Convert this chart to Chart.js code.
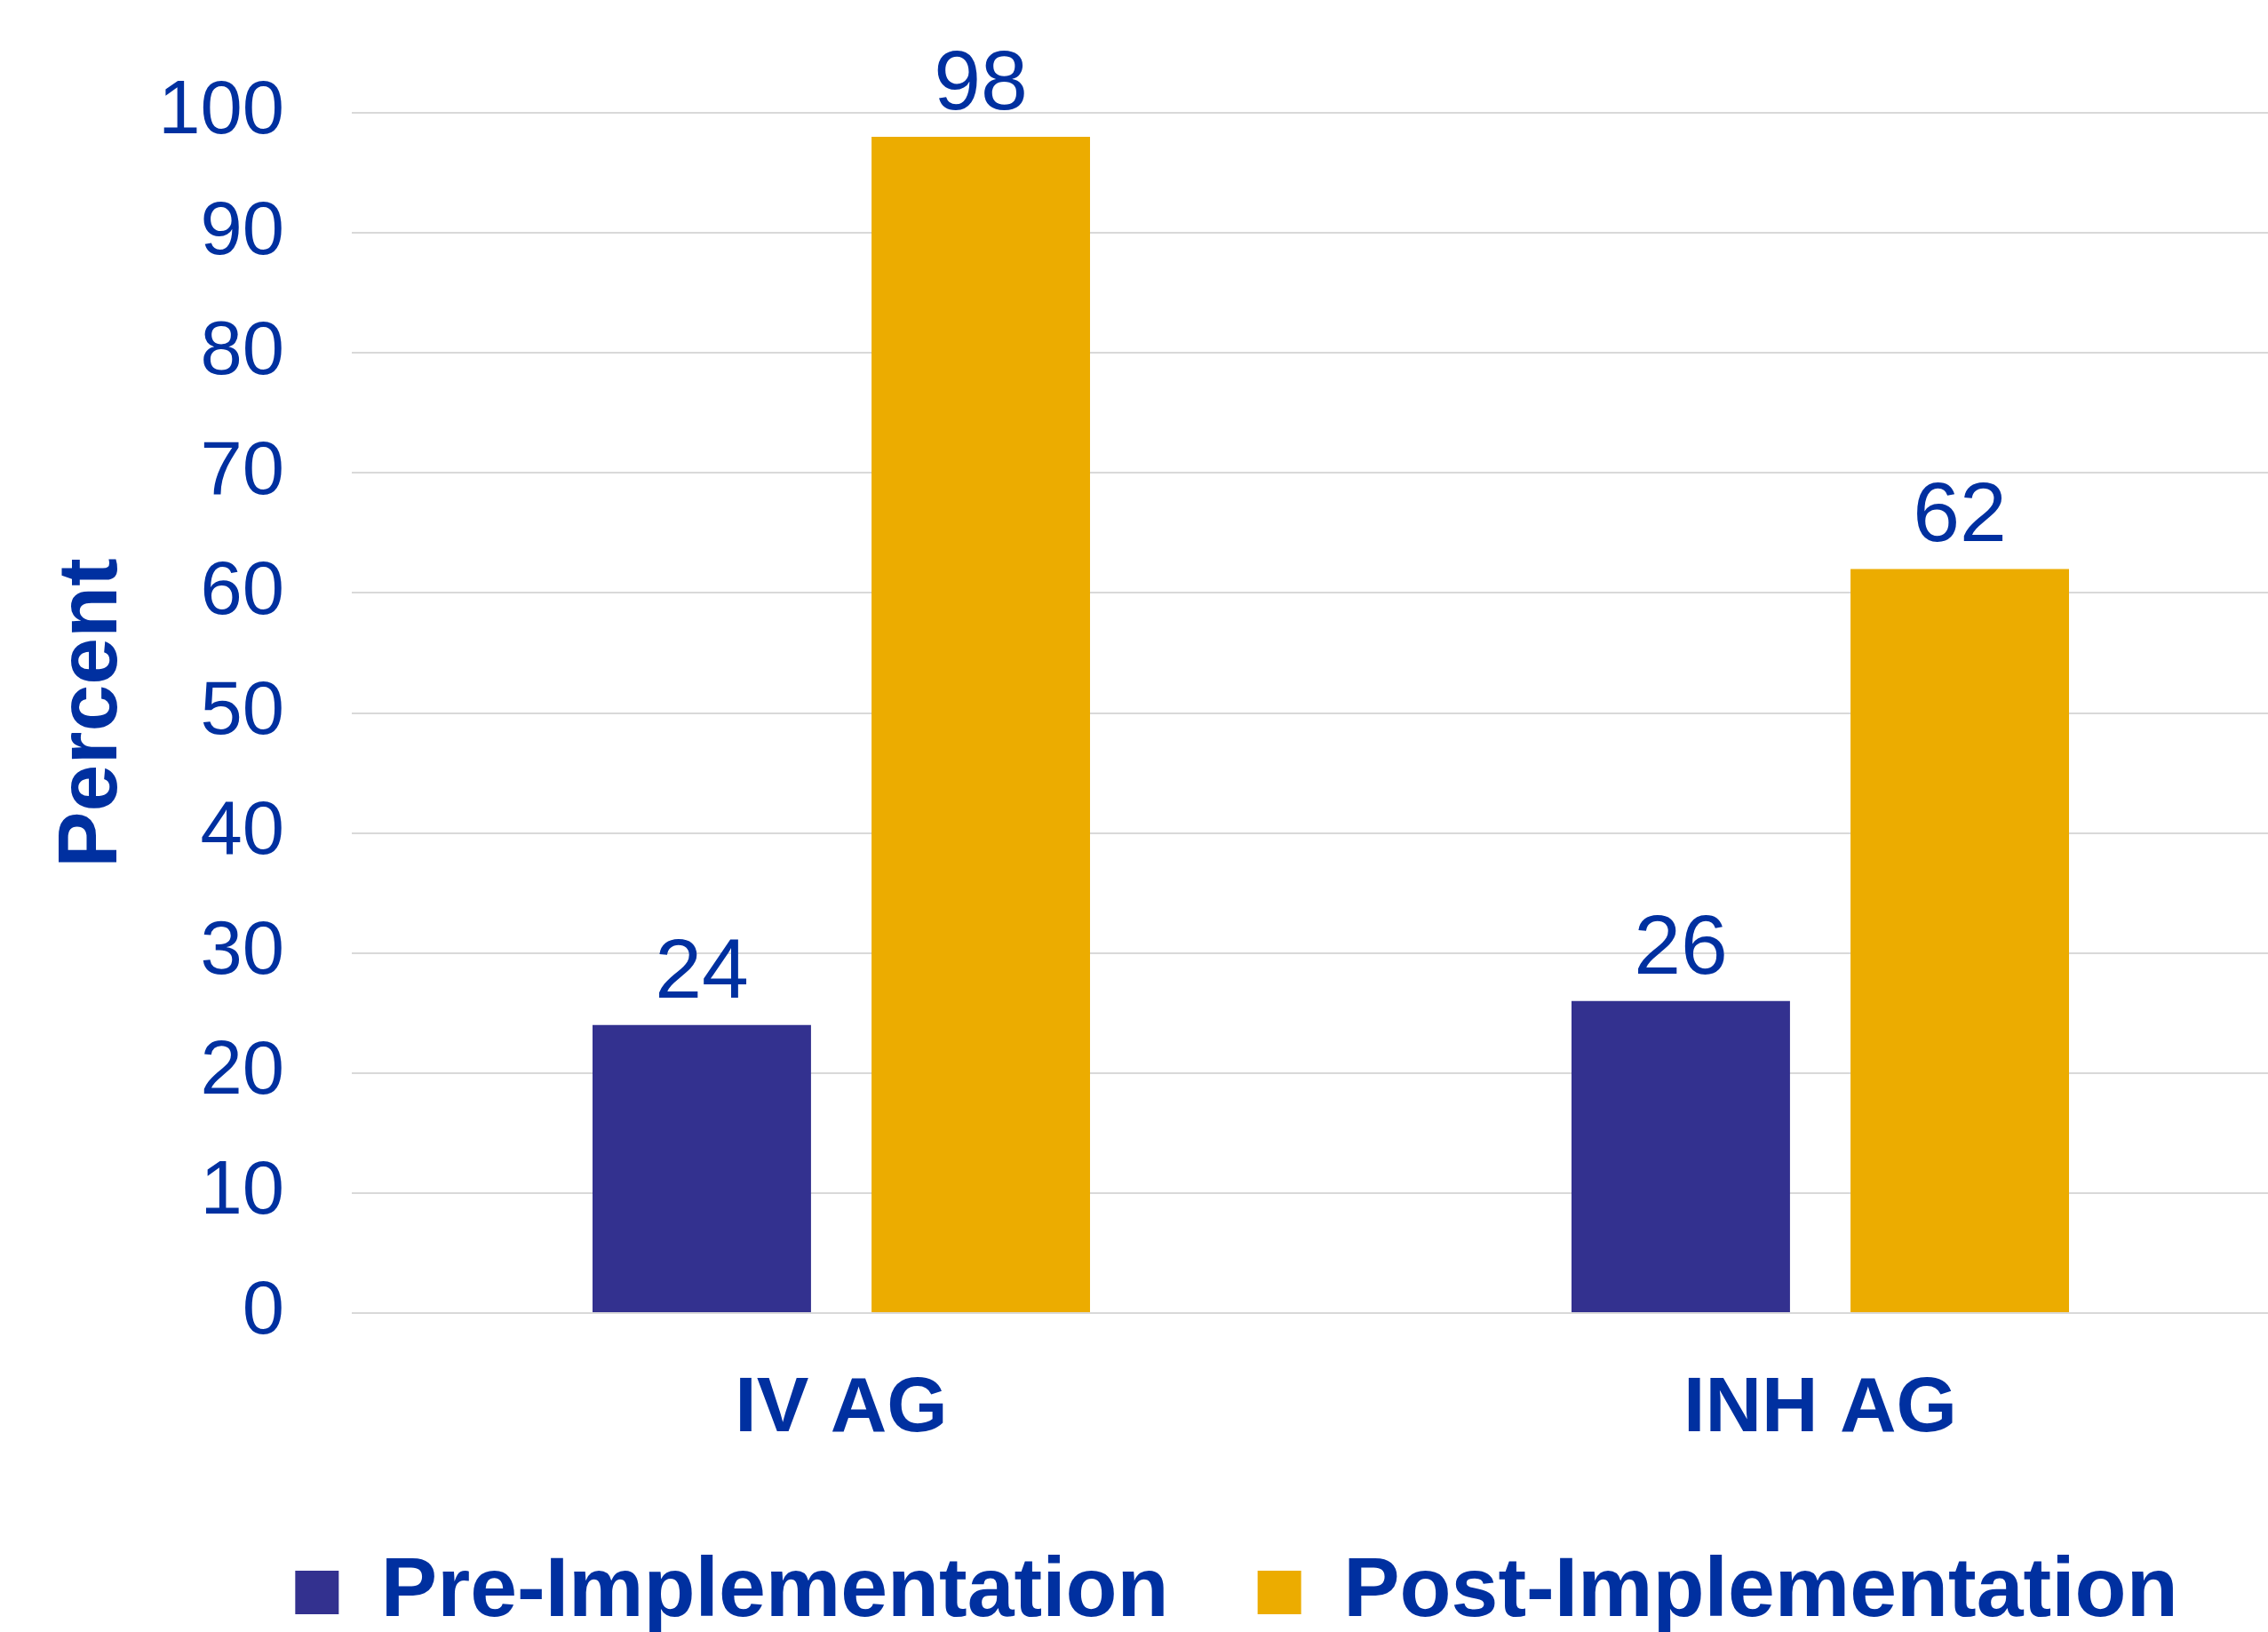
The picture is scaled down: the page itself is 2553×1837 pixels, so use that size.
<!DOCTYPE html>
<html>
<head>
<meta charset="utf-8">
<title>IV AG / INH AG - Pre vs Post Implementation</title>
<script src="https://cdn.jsdelivr.net/npm/chart.js@4.4.1/dist/chart.umd.min.js"></script>
<style>
  html, body { margin: 0; padding: 0; background: #ffffff; overflow: hidden; }
  #wrap { position: relative; width: 2784px; height: 1850px; }
</style>
</head>
<body>
<div id="wrap"><canvas id="chart"></canvas></div>
<script>
// ── Data ───────────────────────────────────────────────
const categories = ['IV AG', 'INH AG'];
const seriesNames = ['Pre-Implementation', 'Post-Implementation'];
const preValues = [24, 26];
const postValues = [98, 62];
const yTicks = [0, 10, 20, 30, 40, 50, 60, 70, 80, 90, 100];

// ── Look ───────────────────────────────────────────────
const TEXT_BLUE = '#0030A0';
const PRE_COLOR = '#33318F';
const POST_COLOR = '#ECAC00';
const GRID_COLOR = '#D9D9D9';
const FONT = '"Liberation Sans", Arial, Helvetica, sans-serif';

Chart.defaults.font.family = FONT;
Chart.defaults.color = TEXT_BLUE;

// value labels above each bar
const barLabels = {
    id: 'barLabels',
    afterDatasetsDraw(chart) {
        const ctx = chart.ctx;
        ctx.save();
        ctx.font = '95px ' + FONT;
        ctx.fillStyle = TEXT_BLUE;
        ctx.textAlign = 'center';
        ctx.textBaseline = 'alphabetic';
        chart.data.datasets.forEach((ds, i) => {
            chart.getDatasetMeta(i).data.forEach((bar, j) => {
                ctx.fillText(String(ds.data[j]), bar.x, bar.y - 31);
            });
        });
        ctx.restore();
    }
};

new Chart(document.getElementById('chart'), {
    type: 'bar',
    data: {
        labels: categories,
        datasets: [
            {
                label: seriesNames[0],
                data: preValues,
                backgroundColor: PRE_COLOR,
                yAxisID: 'y',
                categoryPercentage: 0.57,
                barPercentage: 0.783
            },
            {
                label: seriesNames[1],
                data: postValues,
                backgroundColor: POST_COLOR,
                yAxisID: 'y',
                categoryPercentage: 0.57,
                barPercentage: 0.783
            }
        ]
    },
    options: {
        responsive: true,
        maintainAspectRatio: false,
        animation: false,
        layout: { padding: { top: 125, left: 0, right: 0, bottom: 0 } },
        plugins: {
            tooltip: { enabled: false },
            legend: {
                position: 'bottom',
                labels: {
                    boxWidth: 49,
                    boxHeight: 49,
                    padding: 100,
                    color: TEXT_BLUE,
                    font: { size: 95, weight: 'bold' }
                }
            }
        },
        scales: {
            x: {
                grid: { display: false },
                border: { display: false },
                ticks: { padding: 48, color: TEXT_BLUE, font: { size: 88, weight: 'bold' } },
                afterFit(s) { s.height = 167; }
            },
            y: {
                position: 'left',
                min: 0,
                max: 100,
                afterBuildTicks(s) { s.ticks = yTicks.map(v => ({ value: v })); },
                grid: { color: GRID_COLOR, lineWidth: 2, drawTicks: false },
                border: { display: false },
                ticks: { padding: 76, color: TEXT_BLUE, font: { size: 85 } },
                title: {
                    display: true,
                    text: 'Percent',
                    color: TEXT_BLUE,
                    font: { size: 95, weight: 'bold' },
                    padding: { top: 48, bottom: 0 }
                },
                afterFit(s) { s.width = 396; }
            },
            // empty spacer on the right, the plot runs past the cropped edge
            yPad: {
                position: 'right',
                display: true,
                grid: { display: false },
                border: { display: false },
                ticks: { display: false },
                afterFit(s) { s.width = 184; }
            }
        }
    },
    plugins: [barLabels]
});
</script>
</body>
</html>
